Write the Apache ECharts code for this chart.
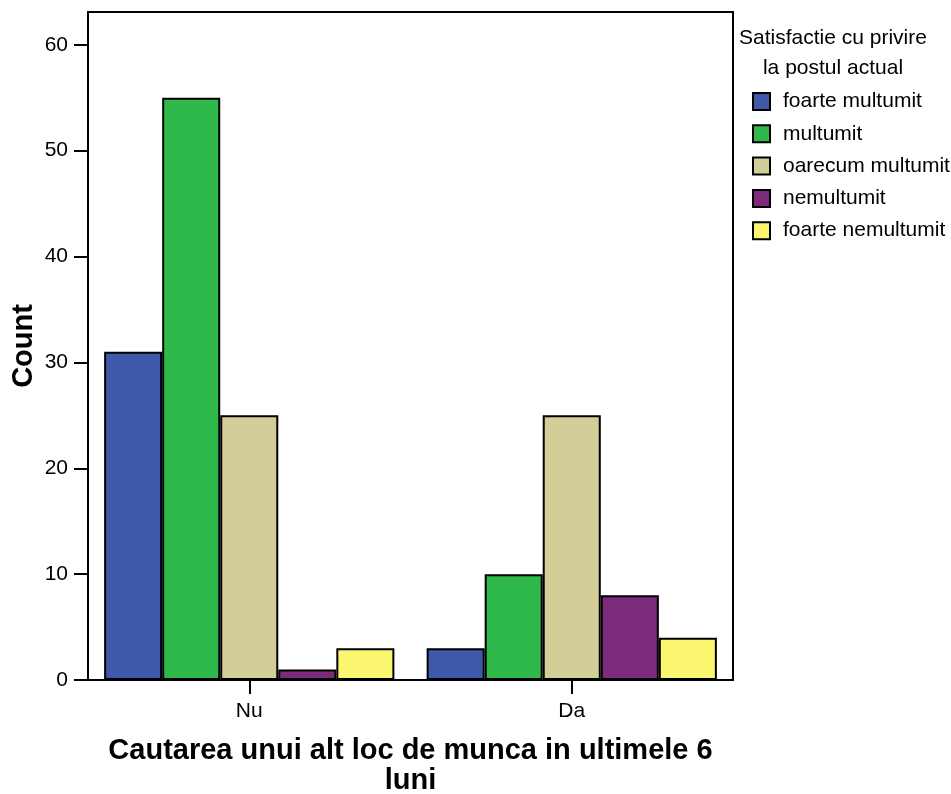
<!DOCTYPE html>
<html>
<head>
<meta charset="utf-8">
<script src="https://cdn.jsdelivr.net/npm/echarts@6/dist/echarts.min.js"></script>
<style>html,body{margin:0;padding:0;background:#fff}#c{width:951px;height:794px}</style>
</head>
<body>
<div id="c"></div>
<script>
const categories = ['Nu', 'Da'];
const seriesNames = ['foarte multumit', 'multumit', 'oarecum multumit', 'nemultumit', 'foarte nemultumit'];
const foarteMultumit = [31, 3];
const multumit = [55, 10];
const oarecumMultumit = [25, 25];
const nemultumit = [1, 8];
const foarteNemultumit = [3, 4];
const yTicks = [0, 10, 20, 30, 40, 50, 60];
const colors = ['#3E58AA', '#2FB94A', '#D3CE97', '#7C2A7B', '#FBF771'];
const seriesData = [foarteMultumit, multumit, oarecumMultumit, nemultumit, foarteNemultumit];

const FONT = '"Liberation Sans", Arial, sans-serif';
const chart = echarts.init(document.getElementById('c'));
chart.setOption({
  animation: false,
  textStyle: { fontFamily: FONT, color: '#000' },
  grid: { left: 88, top: 12, width: 645, height: 668, show: true, borderColor: '#000', borderWidth: 2, containLabel: false, outerBoundsMode: 'none' },
  title: {
    text: 'Satisfactie cu privire\nla postul actual',
    left: 828, top: 18, textAlign: 'center',
    textStyle: { fontFamily: FONT, fontSize: 21, fontWeight: 'normal', color: '#000', lineHeight: 30 }
  },
  legend: {
    orient: 'vertical', left: 747, top: 86,
    itemWidth: 17, itemHeight: 17, itemGap: 11.3,
    icon: 'rect',
    data: seriesNames,
    itemStyle: { borderColor: '#000', borderWidth: 2 },
    textStyle: { fontFamily: FONT, fontSize: 21, color: '#000', lineHeight: 20, padding: [0, 0, 0, 8] }
  },
  xAxis: {
    type: 'category', data: categories,
    name: 'Cautarea unui alt loc de munca in ultimele 6\nluni',
    nameLocation: 'middle', nameGap: 56,
    nameTextStyle: { fontFamily: FONT, fontSize: 29, fontWeight: 'bold', color: '#000', lineHeight: 30 },
    axisLine: { lineStyle: { color: '#000', width: 2 } },
    axisTick: { show: true, alignWithLabel: true, length: 14, lineStyle: { color: '#000', width: 2 } },
    axisLabel: { fontFamily: FONT, fontSize: 21, color: '#000', margin: 21 }
  },
  yAxis: {
    type: 'value', min: 0, max: 63.1, interval: 10,
    name: 'Count', nameLocation: 'middle', nameGap: 50, nameRotate: 90, nameMoveOverlap: false,
    nameTextStyle: { fontFamily: FONT, fontSize: 29, fontWeight: 'bold', color: '#000' },
    splitLine: { show: false },
    axisLine: { show: true, lineStyle: { color: '#000', width: 2 } },
    axisTick: { show: true, length: 14, customValues: yTicks, lineStyle: { color: '#000', width: 2 } },
    axisLabel: { fontFamily: FONT, fontSize: 21, color: '#000', margin: 20, customValues: yTicks }
  },
  series: seriesNames.map((n, i) => ({
    name: n, type: 'bar', data: seriesData[i],
    barGap: '0%', barCategoryGap: '10%',
    itemStyle: { color: colors[i], borderColor: '#000', borderWidth: 2 }
  }))
});
</script>
</body>
</html>
